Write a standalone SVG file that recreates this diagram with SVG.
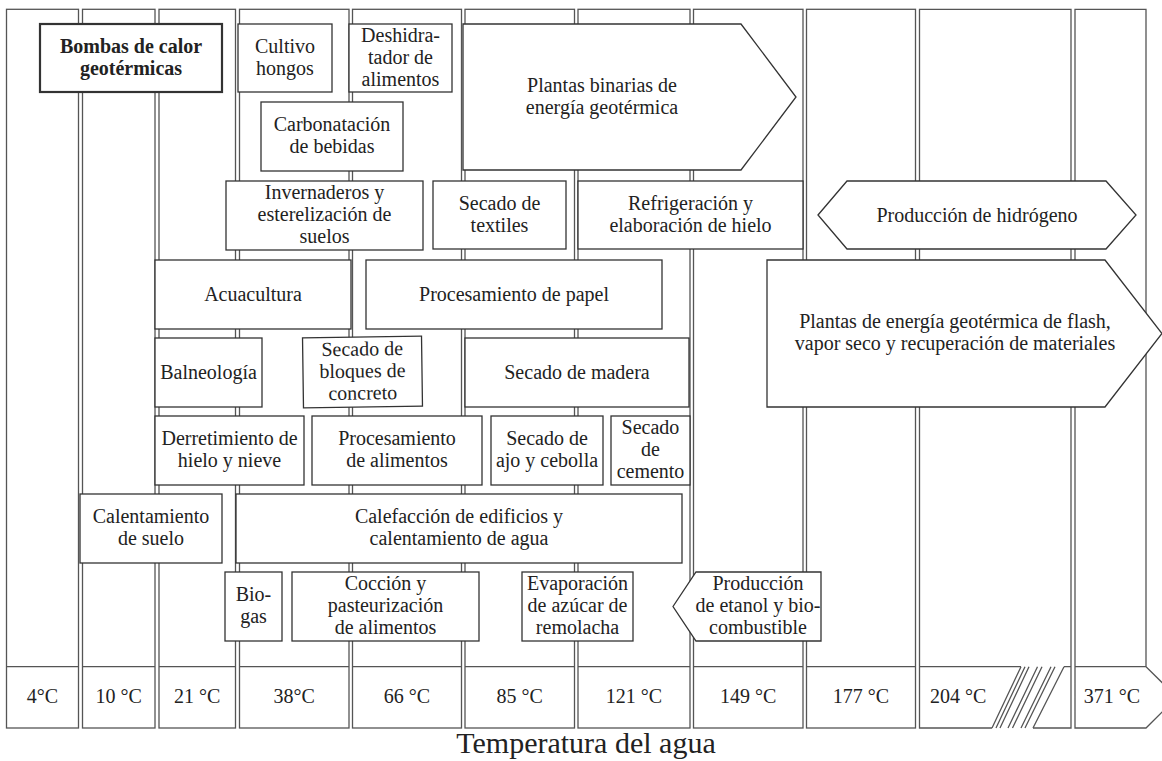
<svg xmlns="http://www.w3.org/2000/svg" width="1162" height="761" viewBox="0 0 1162 761">
<style>
.col{fill:none;stroke:#555;stroke-width:1.3}
.box{fill:#fff;stroke:#333;stroke-width:1.3}
.t{font-family:"Liberation Serif","Times New Roman",serif;font-size:20px;fill:#222;text-anchor:middle}
.b{font-weight:bold}
.ax{font-family:"Liberation Serif","Times New Roman",serif;font-size:30px;fill:#222;text-anchor:middle}
</style>
<rect x="0" y="0" width="1162" height="761" fill="#fff"/>
<g id="columns" class="col">
<rect x="6.5" y="9.3" width="72" height="718.7"/><line x1="6.5" y1="666.7" x2="78.5" y2="666.7"/>
<rect x="82.5" y="9.3" width="72.5" height="718.7"/><line x1="82.5" y1="666.7" x2="155" y2="666.7"/>
<rect x="159" y="9.3" width="76.5" height="718.7"/><line x1="159" y1="666.7" x2="235.5" y2="666.7"/>
<rect x="239.5" y="9.3" width="109.5" height="718.7"/><line x1="239.5" y1="666.7" x2="349" y2="666.7"/>
<rect x="352.5" y="9.3" width="109" height="718.7"/><line x1="352.5" y1="666.7" x2="461.5" y2="666.7"/>
<rect x="465" y="9.3" width="109.5" height="718.7"/><line x1="465" y1="666.7" x2="574.5" y2="666.7"/>
<rect x="578" y="9.3" width="112" height="718.7"/><line x1="578" y1="666.7" x2="690" y2="666.7"/>
<rect x="693.5" y="9.3" width="109.5" height="718.7"/><line x1="693.5" y1="666.7" x2="803" y2="666.7"/>
<rect x="806.5" y="9.3" width="109" height="718.7"/><line x1="806.5" y1="666.7" x2="915.5" y2="666.7"/>
<path d="M1021,666.7 H919.5 V9.3 H1071 V728 H1033 M992,728 H919.5 V666.7 M1064,666.7 H1071"/>
<path d="M992,728 L1021,666.7 M996,728 L1025,666.7 M1000,728 L1029,666.7 M1008,728 L1037.5,666.7 M1012.5,728 L1042,666.7 M1021,728 L1051,666.7 M1025,728 L1055,666.7 M1033,728 L1064,666.7"/>
<path d="M1075,9.3 H1146 V666.7 L1177,697.3 L1146,728 H1075 Z M1075,666.7 H1146"/>
</g>
<g id="n1"><rect class="box" x="40" y="24" width="182" height="68" style="stroke-width:2.2"/><text class="t b" x="131" y="52.5">Bombas de calor</text><text class="t b" x="131" y="74.5">geotérmicas</text></g>
<g id="n2"><rect class="box" x="238" y="24" width="94" height="68"/><text class="t" x="285" y="52.5">Cultivo</text><text class="t" x="285" y="74.5">hongos</text></g>
<g id="n3"><rect class="box" x="349" y="24" width="103" height="68"/><text class="t" x="400.5" y="41.5">Deshidra-</text><text class="t" x="400.5" y="63.5">tador de</text><text class="t" x="400.5" y="85.5">alimentos</text></g>
<g id="n4"><polygon class="box" points="463,24 741,24 796,97 741,170 463,170"/><text class="t" x="602" y="91.5">Plantas binarias de</text><text class="t" x="602" y="113.5">energía geotérmica</text></g>
<g id="n5"><rect class="box" x="261" y="102" width="142" height="69"/><text class="t" x="332" y="131">Carbonatación</text><text class="t" x="332" y="153">de bebidas</text></g>
<g id="n6"><rect class="box" x="226" y="181" width="197" height="69"/><text class="t" x="324.5" y="199">Invernaderos y</text><text class="t" x="324.5" y="221">esterelización de</text><text class="t" x="324.5" y="243">suelos</text></g>
<g id="n7"><rect class="box" x="433" y="181" width="133" height="68"/><text class="t" x="499.5" y="209.5">Secado de</text><text class="t" x="499.5" y="231.5">textiles</text></g>
<g id="n8"><rect class="box" x="578" y="181" width="225" height="68"/><text class="t" x="690.5" y="209.5">Refrigeración y</text><text class="t" x="690.5" y="231.5">elaboración de hielo</text></g>
<g id="n9"><polygon class="box" points="818,215 847,181 1106,181 1136,215 1106,249 847,249"/><text class="t" x="977" y="221.5">Producción de hidrógeno</text></g>
<g id="n10"><rect class="box" x="155" y="260" width="196" height="69"/><text class="t" x="253" y="301">Acuacultura</text></g>
<g id="n11"><rect class="box" x="366" y="260" width="296" height="69"/><text class="t" x="514" y="301">Procesamiento de papel</text></g>
<g id="n12"><polygon class="box" points="767,260 1105,260 1162,333.5 1105,407 767,407"/><text class="t" x="955" y="328">Plantas de energía geotérmica de flash,</text><text class="t" x="955" y="350">vapor seco y recuperación de materiales</text></g>
<g id="n13"><rect class="box" x="155" y="338" width="107" height="69"/><text class="t" x="208.5" y="379">Balneología</text></g>
<g id="n14" transform="rotate(-0.8 362.5 372)"><rect class="box" x="303" y="337" width="119" height="70"/><text class="t" x="362.5" y="355.5">Secado de</text><text class="t" x="362.5" y="377.5">bloques de</text><text class="t" x="362.5" y="399.5">concreto</text></g>
<g id="n15"><rect class="box" x="465" y="338" width="224" height="69"/><text class="t" x="577" y="379">Secado de madera</text></g>
<g id="n16"><rect class="box" x="155" y="416" width="149" height="69"/><text class="t" x="229.5" y="445">Derretimiento de</text><text class="t" x="229.5" y="467">hielo y nieve</text></g>
<g id="n17"><rect class="box" x="312" y="416" width="170" height="69"/><text class="t" x="397" y="445">Procesamiento</text><text class="t" x="397" y="467">de alimentos</text></g>
<g id="n18"><rect class="box" x="491" y="416" width="112" height="69"/><text class="t" x="547" y="445">Secado de</text><text class="t" x="547" y="467">ajo y cebolla</text></g>
<g id="n19"><rect class="box" x="611" y="416" width="79" height="69"/><text class="t" x="650.5" y="434">Secado</text><text class="t" x="650.5" y="456">de</text><text class="t" x="650.5" y="478">cemento</text></g>
<g id="n20"><rect class="box" x="80" y="494" width="142" height="69"/><text class="t" x="151" y="523">Calentamiento</text><text class="t" x="151" y="545">de suelo</text></g>
<g id="n21"><rect class="box" x="236" y="494" width="446" height="69"/><text class="t" x="459" y="523">Calefacción de edificios y</text><text class="t" x="459" y="545">calentamiento de agua</text></g>
<g id="n22"><rect class="box" x="225" y="572" width="57" height="69"/><text class="t" x="253.5" y="601">Bio-</text><text class="t" x="253.5" y="623">gas</text></g>
<g id="n23"><rect class="box" x="292" y="572" width="187" height="69"/><text class="t" x="385.5" y="590">Cocción y</text><text class="t" x="385.5" y="612">pasteurización</text><text class="t" x="385.5" y="634">de alimentos</text></g>
<g id="n24"><rect class="box" x="522" y="572" width="111" height="69"/><text class="t" x="577.5" y="590">Evaporación</text><text class="t" x="577.5" y="612">de azúcar de</text><text class="t" x="577.5" y="634">remolacha</text></g>
<g id="n25"><polygon class="box" points="673,606.5 696,572 821,572 821,641 696,641"/><text class="t" x="758" y="590">Producción</text><text class="t" x="758" y="612">de etanol y bio-</text><text class="t" x="758" y="634">combustible</text></g>
<g id="axis">
<text class="t" x="42.5" y="703">4°C</text>
<text class="t" x="118.75" y="703">10 °C</text>
<text class="t" x="197.25" y="703">21 °C</text>
<text class="t" x="294.25" y="703">38°C</text>
<text class="t" x="407" y="703">66 °C</text>
<text class="t" x="519.75" y="703">85 °C</text>
<text class="t" x="634" y="703">121 °C</text>
<text class="t" x="748.25" y="703">149 °C</text>
<text class="t" x="861" y="703">177 °C</text>
<text class="t" x="930" y="703" style="text-anchor:start">204 °C</text>
<text class="t" x="1112" y="703">371 °C</text>
<text class="ax" x="586" y="753">Temperatura del agua</text>
</g>
</svg>
